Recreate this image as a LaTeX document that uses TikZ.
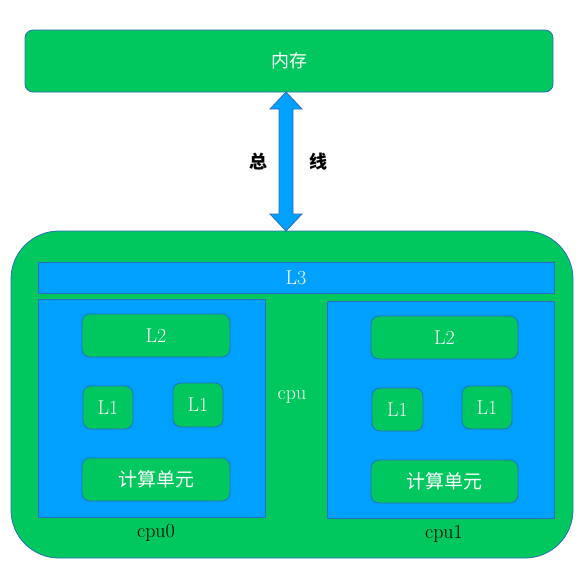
\documentclass[tikz,border=0pt]{standalone}
\usepackage{fontspec}
\usepackage{tikz}
\usetikzlibrary{calc}
\newfontfamily\cjk{Noto Sans CJK SC}
\definecolor{boxgreen}{RGB}{0,199,94}
\definecolor{boxblue}{RGB}{0,160,255}
\definecolor{edgeblue}{RGB}{40,110,190}

\begin{document}
\begin{tikzpicture}[x=1pt,y=-1pt,
        greenbox/.style={draw=edgeblue, fill=boxgreen, line width=0.8pt, rounded corners=8pt, inner sep=0pt, text=white, font=\fontsize{20}{22}\selectfont},
        bluebox/.style={draw=edgeblue, fill=boxblue, line width=0.8pt, inner sep=0pt, text=white, font=\fontsize{20}{22}\selectfont},
        bus/.style={draw=edgeblue, fill=boxblue, line width=0.8pt, line join=miter},
        tag/.style={inner sep=0pt, font=\fontsize{20}{22}\selectfont}]
        \useasboundingbox (0,0) rectangle (586,576);
        % memory and cpu board
        \node[greenbox, minimum width=528pt, minimum height=62pt] (a1) at (289,61) {\cjk\fontsize{18}{20}\selectfont 内存};
        \node[greenbox, rounded corners=48pt, minimum width=562pt, minimum height=327pt] (a2) at (292,394.5) {};
        \coordinate (t1) at (286,92);
        \coordinate (t2) at (286,231);
        \draw[bus] (t1) -- ++(16,17) -- ++(-9,0) -- ($(t2)+(7,-17)$) -- ++(9,0) -- (t2)
                -- ++(-16,-17) -- ++(9,0) -- ($(t1)+(-7,17)$) -- ++(-9,0) -- cycle;
        \node[tag, font=\cjk\bfseries\fontsize{18}{20}\selectfont] (w1) at (258,162) {总};
        \node[tag, font=\cjk\bfseries\fontsize{18}{20}\selectfont] (w2) at (318,162) {线};
        % caches
        \node[bluebox, minimum width=516pt, minimum height=31pt] (b1) at (296,277.5) {L3};
        \node[bluebox, minimum width=227pt, minimum height=218pt] (c0) at (151.5,408) {};
        \node[bluebox, minimum width=227pt, minimum height=217pt] (c1) at (440.5,409.5) {};
        \node[tag, text=white] (p1) at (292,397) {cpu};
        \node[tag] (p2) at (156,533) {cpu0};
        \node[tag] (p3) at (444,534) {cpu1};
        % cpu0
        \node[greenbox, minimum width=148pt, minimum height=43pt] (d1) at (156,335.5) {L2};
        \node[greenbox, minimum width=50pt, minimum height=43pt] (d2) at (108,407.5) {L1};
        \node[greenbox, minimum width=50pt, minimum height=44pt] (d3) at (198,405) {L1};
        \node[greenbox, minimum width=148pt, minimum height=43pt] (d4) at (156,479.5) {\cjk\fontsize{19}{21}\selectfont 计算单元};
        % cpu1
        \node[greenbox, minimum width=147pt, minimum height=43pt] (e1) at (444.5,337.5) {L2};
        \node[greenbox, minimum width=51pt, minimum height=43pt] (e2) at (397.5,409.5) {L1};
        \node[greenbox, minimum width=50pt, minimum height=43pt] (e3) at (487,407.5) {L1};
        \node[greenbox, minimum width=147pt, minimum height=43pt] (e4) at (444.5,481.5) {\cjk\fontsize{19}{21}\selectfont 计算单元};
\end{tikzpicture}
\end{document}
